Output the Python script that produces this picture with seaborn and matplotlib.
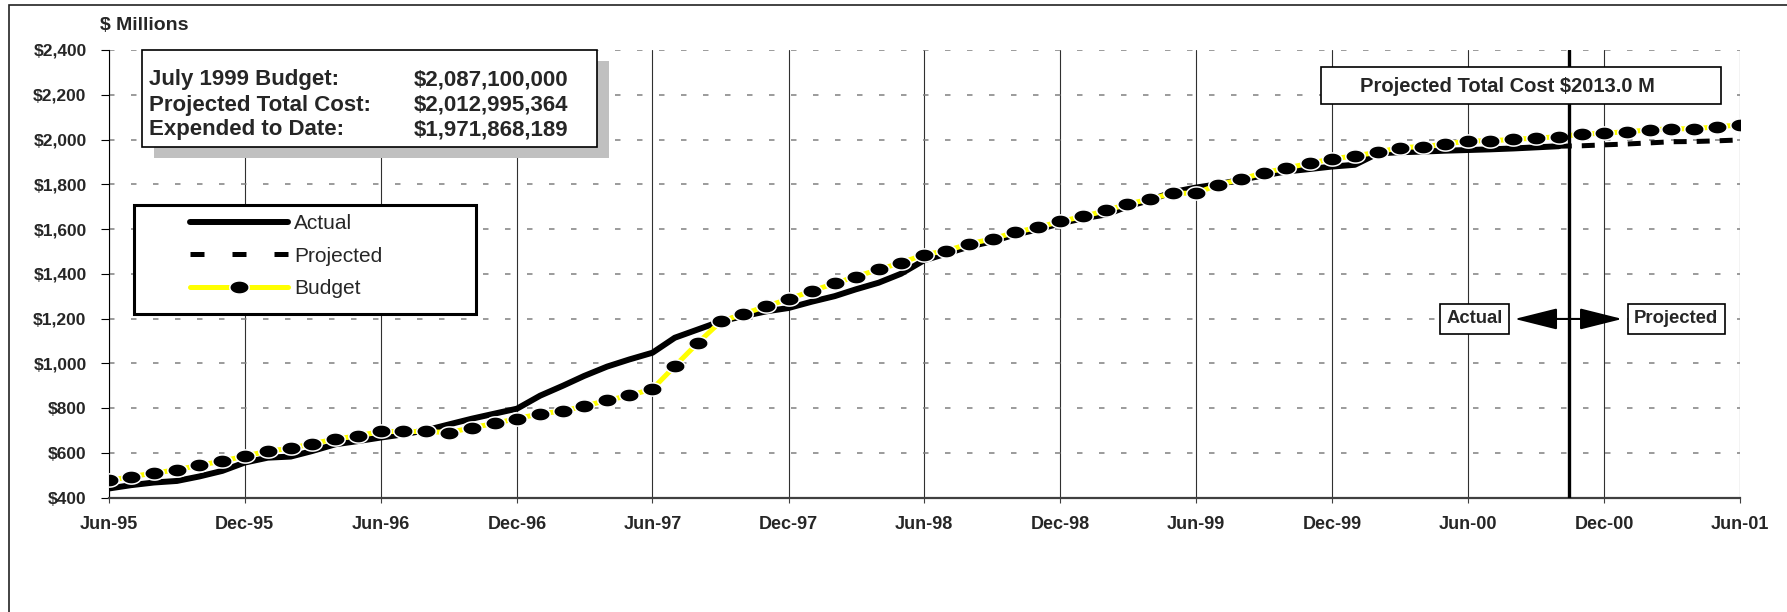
import numpy as np
import pandas as pd
import seaborn as sns
import matplotlib.pyplot as plt
import matplotlib.dates as mdates
from matplotlib.lines import Line2D
from matplotlib.patches import Rectangle
from matplotlib.ticker import FuncFormatter

# monthly values in $ millions (Jun-95 .. Jun-01)
budget = [476, 493, 509, 524, 544, 563, 585, 607, 620, 641, 661, 676,
          695, 695, 695, 690, 712, 731, 753, 774, 787, 808, 834, 856,
          885, 987, 1091, 1187, 1220, 1255, 1287, 1323, 1357, 1387, 1419, 1449,
          1485, 1503, 1534, 1556, 1585, 1607, 1634, 1656, 1683, 1711, 1734, 1760,
          1760, 1797, 1823, 1852, 1872, 1894, 1913, 1927, 1943, 1964, 1968, 1979,
          1994, 1994, 2001, 2006, 2013, 2024, 2028, 2035, 2043, 2048, 2048, 2057,
          2065]
# actual spend Jun-95 .. Oct-00
actual = [440, 455, 467, 474, 494, 519, 556, 578, 583, 608, 638, 652,
          668, 682, 701, 727, 752, 775, 797, 855, 900, 943, 985, 1017,
          1047, 1114, 1151, 1188, 1210, 1232, 1247, 1275, 1300, 1330, 1360, 1400,
          1460, 1490, 1522, 1545, 1575, 1598, 1625, 1648, 1665, 1700, 1730, 1765,
          1785, 1800, 1820, 1840, 1857, 1868, 1879, 1887, 1938, 1943, 1946, 1950,
          1953, 1956, 1960, 1965, 1970]
# projection Oct-00 .. Jun-01
projected = [1970, 1972, 1976, 1980, 1985, 1990, 1991, 1994, 1998]

months = pd.date_range('1995-06-01', periods=len(budget), freq='MS')
df_budget = pd.DataFrame({'date': months, 'value': budget})
df_actual = pd.DataFrame({'date': months[:len(actual)], 'value': actual})
df_proj = pd.DataFrame({'date': months[len(actual) - 1:], 'value': projected})

xticks = pd.date_range('1995-06-01', '2001-06-01', freq='6MS')
yticks = list(range(400, 2401, 200))

info_labels = ['July 1999 Budget:', 'Projected Total Cost:', 'Expended to Date:']
info_values = ['$2,087,100,000', '$2,012,995,364', '$1,971,868,189']
cutoff = pd.Timestamp('2000-10-15')

sns.set_style('white')
plt.rcParams['font.family'] = ['Liberation Sans', 'DejaVu Sans']
plt.rcParams['text.parse_math'] = False

W, H = 1787, 612
fig = plt.figure(figsize=(W / 100, H / 100), dpi=100)
ax = fig.add_axes([108.5 / W, 1 - 497.5 / H, (1739.6 - 108.5) / W, (497.5 - 50) / H])

def fx(x):
    return x / W

def fy(y):
    return 1 - y / H

# ellipse shaped marker like the excel one
t = np.linspace(0, 2 * np.pi, 40)
ell = np.column_stack([np.cos(t), 0.68 * np.sin(t)])
msize = 14

sns.lineplot(data=df_actual, x='date', y='value', ax=ax, color='black', lw=4.3,
             legend=False, zorder=3)
sns.lineplot(data=df_proj, x='date', y='value', ax=ax, color='black', lw=3.6,
             linestyle=(0, (2.6, 2.0)), legend=False, zorder=3)
sns.lineplot(data=df_budget, x='date', y='value', ax=ax, color='#FFFF00', lw=3.6,
             marker=ell, markersize=msize, markerfacecolor='black',
             markeredgecolor='white', markeredgewidth=1.1, legend=False, zorder=4)

ax.set_xlim(months[0], months[-1])
ax.set_ylim(400, 2400)
ax.set_xticks(xticks)
ax.xaxis.set_major_formatter(mdates.DateFormatter('%b-%y'))
ax.set_yticks(yticks)
ax.yaxis.set_major_formatter(FuncFormatter(lambda v, p: f'${v:,.0f}'))
ax.set_xlabel('')
ax.set_ylabel('')

ax.grid(axis='x', color='#303030', lw=0.8, ls='-')
ax.grid(axis='y', color='#808080', lw=1.1, ls=(0, (3.6, 10.8)))
ax.set_axisbelow(True)
for s in ['top', 'right']:
    ax.spines[s].set_visible(False)
ax.spines['left'].set_color('black')
ax.spines['left'].set_linewidth(0.8)
ax.spines['bottom'].set_color('#404040')
ax.spines['bottom'].set_linewidth(1.6)

ax.tick_params(axis='y', direction='out', length=5.8, width=0.8, color='black', pad=10,
               labelsize=12.5, left=True)
ax.tick_params(axis='x', direction='out', length=3.6, width=0.8, color='#404040', pad=10,
               labelsize=13, bottom=True)
for lab in ax.get_xticklabels() + ax.get_yticklabels():
    lab.set_fontweight('bold')

# actual / projected split
ax.axvline(cutoff, color='black', lw=2.4, zorder=5)
cx = mdates.date2num(cutoff)
ax.annotate('Actual', xy=(cx, 1198), xytext=(mdates.date2num(pd.Timestamp('2000-06-10')), 1198),
            ha='center', va='center', fontsize=13.3, fontweight='bold', zorder=6,
            bbox=dict(boxstyle='square,pad=0.35', fc='white', ec='black', lw=1.2),
            arrowprops=dict(arrowstyle='<|-,head_length=2.0,head_width=0.5', color='black',
                            lw=1.5, shrinkA=3.5, shrinkB=0))
ax.annotate('Projected', xy=(cx, 1198), xytext=(mdates.date2num(pd.Timestamp('2001-03-08')), 1198),
            ha='center', va='center', fontsize=13.3, fontweight='bold', zorder=6,
            bbox=dict(boxstyle='square,pad=0.35', fc='white', ec='black', lw=1.2),
            arrowprops=dict(arrowstyle='<|-,head_length=2.0,head_width=0.5', color='black',
                            lw=1.5, shrinkA=3.5, shrinkB=0))

# outer frame
fig.add_artist(Rectangle((fx(9), -0.1), 1.2, fy(5) + 0.1, transform=fig.transFigure,
                         fill=False, ec='#222222', lw=1.2, zorder=1))

fig.text(fx(100), fy(26), '$ Millions', fontsize=14, fontweight='bold', va='center', ha='left')

# info box with shadow
fig.add_artist(Rectangle((fx(153.6), fy(157.7)), (597 - 141.6) / W, 96.7 / H,
                         transform=fig.transFigure, fc='#c0c0c0', ec='none', zorder=10))
fig.add_artist(Rectangle((fx(141.6), fy(146.7)), (597 - 141.6) / W, 96.7 / H,
                         transform=fig.transFigure, fc='white', ec='black', lw=1.2, zorder=11))
for i, (lab, val) in enumerate(zip(info_labels, info_values)):
    yy = fy(80 + i * 25)
    fig.text(fx(149), yy, lab, fontsize=16, fontweight='bold', va='center', ha='left', zorder=12)
    fig.text(fx(414), yy, val, fontsize=16, fontweight='bold', va='center', ha='left', zorder=12)

# projected total cost box
fig.add_artist(Rectangle((fx(1320.5), fy(104.3)), 400 / W, 37.6 / H,
                         transform=fig.transFigure, fc='white', ec='black', lw=1.2, zorder=11))
fig.text(fx(1507), fy(86), 'Projected Total Cost $2013.0 M', fontsize=14.5, fontweight='bold',
         va='center', ha='center', zorder=12)

# legend with its own heavy frame
fig.add_artist(Rectangle((fx(134), fy(314)), 342 / W, 109 / H, transform=fig.transFigure,
                         fc='white', ec='black', lw=2.2, zorder=10))
handles = [
    Line2D([], [], color='black', lw=4.3, solid_capstyle='round'),
    Line2D([], [], color='black', lw=3.6, ls=(0, (2.8, 5.6))),
    Line2D([], [], color='#FFFF00', lw=3.6, marker=ell, markersize=msize,
           markerfacecolor='black', markeredgecolor='white', markeredgewidth=1.1),
]
leg = fig.legend(handles, ['Actual', 'Projected', 'Budget'], loc='upper left',
                 bbox_to_anchor=(fx(190), fy(214)), bbox_transform=fig.transFigure,
                 frameon=False, numpoints=1, handlelength=4.7, handletextpad=0.3,
                 labelspacing=0.66, borderpad=0, borderaxespad=0,
                 prop={'size': 15, 'weight': 'normal'})
leg.set_zorder(12)

fig.savefig('out.png', dpi=100)
